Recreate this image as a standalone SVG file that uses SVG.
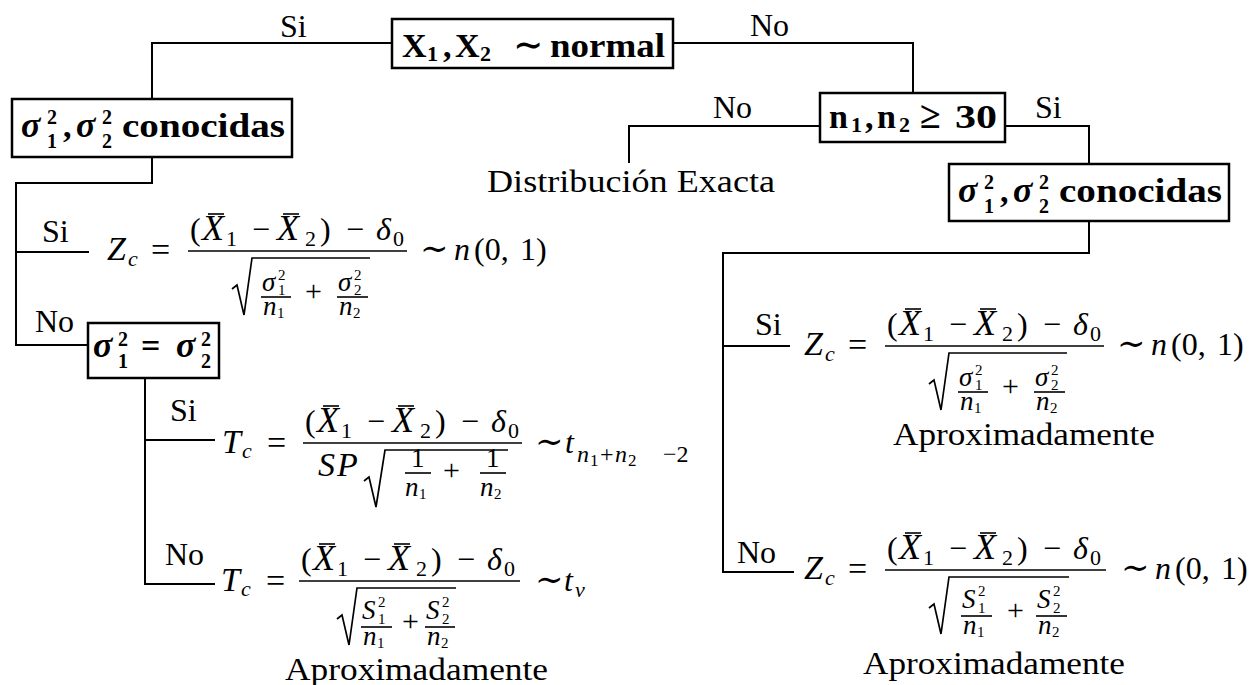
<svg xmlns="http://www.w3.org/2000/svg" width="1249" height="685" viewBox="0 0 1249 685">
<style>
text{font-family:"Liberation Serif","Times New Roman","DejaVu Serif",serif;font-size:32px;fill:#000}
.i{font-style:italic}
.b{font-weight:bold}
.L{font-size:34px}
.X{font-size:36px}
.T{font-size:38px}
.s{font-size:22px}
.sb{font-size:20px}
.s4{font-size:24px}
.ss{font-size:15px}
.s7{font-size:17px}
.m{font-size:27px}
.p{font-size:30px}
.bx{font-size:34px}
.box{fill:#fff;stroke:#000;stroke-width:2.5}
.c{fill:none;stroke:#000;stroke-width:2}
.bar{stroke:#000;stroke-width:1.6}
.rad{fill:none;stroke:#000;stroke-width:1.7;stroke-linejoin:miter}
</style>
<rect width="1249" height="685" fill="#fff"/>

<g id="connectors">
<path class="c" d="M392,43 H152 V99"/>
<path class="c" d="M673,43 H913 V93"/>
<path class="c" d="M820,126 H629 V163"/>
<path class="c" d="M1005,126 H1089 V164"/>
<path class="c" d="M1089,221 V253 H723 V572 H794"/>
<path class="c" d="M723,346 H790"/>
<path class="c" d="M152,157 V183 H16 V345 H88"/>
<path class="c" d="M16,252 H89"/>
<path class="c" d="M145,378 V584 H215"/>
<path class="c" d="M145,440 H215"/>
</g>

<g id="labels">
<text x="280" y="37">Si</text>
<text x="750" y="36">No</text>
<text x="713" y="118">No</text>
<text x="1035" y="118">Si</text>
<text x="42" y="242">Si</text>
<text x="35" y="332">No</text>
<text x="170" y="421">Si</text>
<text x="165" y="565">No</text>
<text x="755" y="335">Si</text>
<text x="737" y="563">No</text>
</g>

<g id="n1">
<rect class="box" x="392" y="19" width="281" height="49"/>
<text class="b bx" y="57"><tspan x="402">X</tspan><tspan class="s" x="427" y="61">1</tspan><tspan x="443" y="57">,</tspan><tspan x="455">X</tspan><tspan class="s" x="480" y="61">2</tspan><tspan x="513" y="57" style="font-size:36px">∼</tspan><tspan x="550" textLength="115" lengthAdjust="spacingAndGlyphs">normal</tspan></text>
</g>

<g id="n2" transform="translate(12,99)">
<rect class="box" x="0" y="0" width="280" height="58"/>
<text class="b bx" y="38"><tspan class="i X" x="9">σ</tspan><tspan class="sb" x="35" y="25">2</tspan><tspan class="sb" x="35" y="49">1</tspan><tspan x="51" y="38">,</tspan><tspan class="i X" x="64">σ</tspan><tspan class="sb" x="90" y="25">2</tspan><tspan class="sb" x="90" y="49">2</tspan><tspan x="110" y="38" textLength="163" lengthAdjust="spacingAndGlyphs">conocidas</tspan></text>
</g>

<g id="n3">
<rect class="box" x="820" y="93" width="185" height="49"/>
<text class="b bx" y="128"><tspan x="829">n</tspan><tspan class="s" x="851" y="132">1</tspan><tspan x="865" y="128">,</tspan><tspan x="877">n</tspan><tspan class="s" x="899" y="132">2</tspan><tspan class="T" x="920" y="128">≥</tspan><tspan x="955" textLength="42" lengthAdjust="spacingAndGlyphs">30</tspan></text>
</g>

<g id="n4" transform="translate(949,164)">
<rect class="box" x="0" y="0" width="280" height="57"/>
<text class="b bx" y="38"><tspan class="i X" x="9">σ</tspan><tspan class="sb" x="35" y="25">2</tspan><tspan class="sb" x="35" y="49">1</tspan><tspan x="51" y="38">,</tspan><tspan class="i X" x="64">σ</tspan><tspan class="sb" x="90" y="25">2</tspan><tspan class="sb" x="90" y="49">2</tspan><tspan x="110" y="38" textLength="163" lengthAdjust="spacingAndGlyphs">conocidas</tspan></text>
</g>

<g id="n5" transform="translate(88,323)">
<rect class="box" x="0" y="0" width="131" height="55"/>
<text class="b bx" y="34"><tspan class="i X" x="5">σ</tspan><tspan class="sb" x="30" y="23">2</tspan><tspan class="sb" x="30" y="45">1</tspan><tspan x="53" y="34">=</tspan><tspan class="i X" x="88">σ</tspan><tspan class="sb" x="113" y="23">2</tspan><tspan class="sb" x="113" y="45">2</tspan></text>
</g>

<g id="n6">
<text x="487" y="192" textLength="288" lengthAdjust="spacingAndGlyphs">Distribución Exacta</text>
</g>

<!-- Formula: Z with sigma (left) -->
<g id="f1" transform="translate(188,251)">
<text><tspan class="i L" x="-81" y="9">Z</tspan><tspan class="i s" x="-60" y="15">c</tspan><tspan class="L" x="-37" y="10">=</tspan><tspan x="2" y="-11">(</tspan><tspan class="i X" x="14" y="-11">X</tspan><tspan class="s" x="38" y="-5">1</tspan><tspan x="64" y="-11">−</tspan><tspan class="i X" x="89" y="-11">X</tspan><tspan class="s" x="117" y="-5">2</tspan><tspan x="132" y="-11">)</tspan><tspan x="158" y="-11">−</tspan><tspan class="i" x="188" y="-11">δ</tspan><tspan class="s" x="205" y="-5">0</tspan><tspan class="m i" x="74" y="40">σ</tspan><tspan class="ss" x="90" y="29">2</tspan><tspan class="ss" x="90" y="44">1</tspan><tspan class="m i" x="75" y="64">n</tspan><tspan class="ss" x="89" y="67">1</tspan><tspan class="p" x="117" y="50">+</tspan><tspan class="m i" x="150" y="40">σ</tspan><tspan class="ss" x="166" y="29">2</tspan><tspan class="ss" x="166" y="44">2</tspan><tspan class="m i" x="151" y="64">n</tspan><tspan class="ss" x="165" y="67">2</tspan><tspan class="L" x="232" y="9">∼</tspan><tspan class="i" x="266" y="9">n</tspan><tspan x="286" y="9">(0,</tspan><tspan x="332" y="9">1)</tspan></text>
<line class="bar" x1="20" y1="-37" x2="36" y2="-37"/><line class="bar" x1="95" y1="-37" x2="111" y2="-37"/>
<line class="bar" x1="0" y1="0" x2="219" y2="0"/>
<path class="rad" d="M44,38 L49,34 L56,64 L64,7 L182,7"/>
<line class="bar" x1="73" y1="46" x2="103" y2="46"/>
<line class="bar" x1="149" y1="46" x2="180" y2="46"/>
</g>

<!-- Formula: Z with sigma (right) -->
<g id="f2" transform="translate(885,346)">
<text><tspan class="i L" x="-81" y="9">Z</tspan><tspan class="i s" x="-60" y="15">c</tspan><tspan class="L" x="-37" y="10">=</tspan><tspan x="2" y="-11">(</tspan><tspan class="i X" x="14" y="-11">X</tspan><tspan class="s" x="38" y="-5">1</tspan><tspan x="64" y="-11">−</tspan><tspan class="i X" x="89" y="-11">X</tspan><tspan class="s" x="117" y="-5">2</tspan><tspan x="132" y="-11">)</tspan><tspan x="158" y="-11">−</tspan><tspan class="i" x="188" y="-11">δ</tspan><tspan class="s" x="205" y="-5">0</tspan><tspan class="m i" x="74" y="40">σ</tspan><tspan class="ss" x="90" y="29">2</tspan><tspan class="ss" x="90" y="44">1</tspan><tspan class="m i" x="75" y="64">n</tspan><tspan class="ss" x="89" y="67">1</tspan><tspan class="p" x="117" y="50">+</tspan><tspan class="m i" x="150" y="40">σ</tspan><tspan class="ss" x="166" y="29">2</tspan><tspan class="ss" x="166" y="44">2</tspan><tspan class="m i" x="151" y="64">n</tspan><tspan class="ss" x="165" y="67">2</tspan><tspan class="L" x="232" y="9">∼</tspan><tspan class="i" x="266" y="9">n</tspan><tspan x="286" y="9">(0,</tspan><tspan x="332" y="9">1)</tspan></text>
<line class="bar" x1="20" y1="-37" x2="36" y2="-37"/><line class="bar" x1="95" y1="-37" x2="111" y2="-37"/>
<line class="bar" x1="0" y1="0" x2="219" y2="0"/>
<path class="rad" d="M44,38 L49,34 L56,64 L64,7 L182,7"/>
<line class="bar" x1="73" y1="46" x2="103" y2="46"/>
<line class="bar" x1="149" y1="46" x2="180" y2="46"/>
<text x="8" y="99" textLength="262" lengthAdjust="spacingAndGlyphs">Aproximadamente</text>
</g>

<!-- Formula: Z with S (right) -->
<g id="f3" transform="translate(885,570)">
<text><tspan class="i L" x="-81" y="9">Z</tspan><tspan class="i s" x="-60" y="15">c</tspan><tspan class="L" x="-37" y="10">=</tspan><tspan x="2" y="-11">(</tspan><tspan class="i X" x="14" y="-11">X</tspan><tspan class="s" x="38" y="-5">1</tspan><tspan x="64" y="-11">−</tspan><tspan class="i X" x="89" y="-11">X</tspan><tspan class="s" x="117" y="-5">2</tspan><tspan x="132" y="-11">)</tspan><tspan x="158" y="-11">−</tspan><tspan class="i" x="188" y="-11">δ</tspan><tspan class="s" x="205" y="-5">0</tspan><tspan class="m i" x="77" y="38">S</tspan><tspan class="ss" x="93" y="26">2</tspan><tspan class="ss" x="93" y="43">1</tspan><tspan class="m i" x="78" y="64">n</tspan><tspan class="ss" x="92" y="67">1</tspan><tspan class="p" x="122" y="50">+</tspan><tspan class="m i" x="152" y="38">S</tspan><tspan class="ss" x="168" y="26">2</tspan><tspan class="ss" x="168" y="43">2</tspan><tspan class="m i" x="153" y="64">n</tspan><tspan class="ss" x="167" y="67">2</tspan><tspan class="L" x="236" y="9">∼</tspan><tspan class="i" x="270" y="9">n</tspan><tspan x="290" y="9">(0,</tspan><tspan x="336" y="9">1)</tspan></text>
<line class="bar" x1="20" y1="-37" x2="36" y2="-37"/><line class="bar" x1="95" y1="-37" x2="111" y2="-37"/>
<line class="bar" x1="0" y1="0" x2="221" y2="0"/>
<path class="rad" d="M44,38 L49,34 L56,64 L64,7 L184,7"/>
<line class="bar" x1="76" y1="46" x2="107" y2="46"/>
<line class="bar" x1="151" y1="46" x2="182" y2="46"/>
<text x="-22" y="104" textLength="262" lengthAdjust="spacingAndGlyphs">Aproximadamente</text>
</g>

<!-- Formula: T pooled -->
<g id="f4" transform="translate(303,443)">
<text><tspan class="i L" x="-81" y="10">T</tspan><tspan class="i s" x="-61" y="15">c</tspan><tspan class="L" x="-36" y="11">=</tspan><tspan x="2" y="-11">(</tspan><tspan class="i X" x="14" y="-11">X</tspan><tspan class="s" x="38" y="-5">1</tspan><tspan x="64" y="-11">−</tspan><tspan class="i X" x="89" y="-11">X</tspan><tspan class="s" x="117" y="-5">2</tspan><tspan x="132" y="-11">)</tspan><tspan x="158" y="-11">−</tspan><tspan class="i" x="188" y="-11">δ</tspan><tspan class="s" x="205" y="-5">0</tspan><tspan class="i L" x="15" y="33">S</tspan><tspan class="i L" x="34" y="33">P</tspan><tspan class="m" x="108" y="24">1</tspan><tspan class="m i" x="102" y="53">n</tspan><tspan class="ss" x="116" y="56">1</tspan><tspan class="p" x="140" y="37">+</tspan><tspan class="m" x="183" y="24">1</tspan><tspan class="m i" x="177" y="53">n</tspan><tspan class="ss" x="191" y="56">2</tspan><tspan class="L" x="232" y="10">∼</tspan><tspan class="i" x="262" y="10">t</tspan><tspan class="s4 i" x="274" y="19">n</tspan><tspan class="s7" x="287" y="23">1</tspan><tspan class="s4" x="297" y="19">+</tspan><tspan class="s4 i" x="312" y="19">n</tspan><tspan class="s7" x="325" y="23">2</tspan><tspan class="s4" x="360" y="19">−2</tspan></text>
<line class="bar" x1="20" y1="-37" x2="36" y2="-37"/><line class="bar" x1="95" y1="-37" x2="111" y2="-37"/>
<line class="bar" x1="0" y1="0" x2="219" y2="0"/>
<path class="rad" d="M61,38 L66,34 L73,64 L82,7 L205,7"/>
<line class="bar" x1="102" y1="30" x2="128" y2="30"/>
<line class="bar" x1="177" y1="30" x2="203" y2="30"/>
</g>

<!-- Formula: T Welch -->
<g id="f5" transform="translate(299,581)">
<text><tspan class="i L" x="-78" y="10">T</tspan><tspan class="i s" x="-58" y="15">c</tspan><tspan class="L" x="-33" y="11">=</tspan><tspan x="2" y="-11">(</tspan><tspan class="i X" x="14" y="-11">X</tspan><tspan class="s" x="38" y="-5">1</tspan><tspan x="64" y="-11">−</tspan><tspan class="i X" x="89" y="-11">X</tspan><tspan class="s" x="117" y="-5">2</tspan><tspan x="132" y="-11">)</tspan><tspan x="158" y="-11">−</tspan><tspan class="i" x="188" y="-11">δ</tspan><tspan class="s" x="205" y="-5">0</tspan><tspan class="m i" x="63" y="38">S</tspan><tspan class="ss" x="79" y="26">2</tspan><tspan class="ss" x="79" y="43">1</tspan><tspan class="m i" x="64" y="64">n</tspan><tspan class="ss" x="78" y="67">1</tspan><tspan class="p" x="103" y="50">+</tspan><tspan class="m i" x="127" y="38">S</tspan><tspan class="ss" x="143" y="26">2</tspan><tspan class="ss" x="143" y="43">2</tspan><tspan class="m i" x="128" y="64">n</tspan><tspan class="ss" x="142" y="67">2</tspan><tspan class="L" x="236" y="10">∼</tspan><tspan class="i" x="265" y="10">t</tspan><tspan class="s i" x="276" y="16">v</tspan></text>
<line class="bar" x1="20" y1="-37" x2="36" y2="-37"/><line class="bar" x1="95" y1="-37" x2="111" y2="-37"/>
<line class="bar" x1="0" y1="0" x2="221" y2="0"/>
<path class="rad" d="M38,38 L43,34 L50,64 L58,7 L157,7"/>
<line class="bar" x1="62" y1="46" x2="93" y2="46"/>
<line class="bar" x1="126" y1="46" x2="156" y2="46"/>
<text x="-14" y="99" textLength="263" lengthAdjust="spacingAndGlyphs">Aproximadamente</text>
</g>
</svg>
